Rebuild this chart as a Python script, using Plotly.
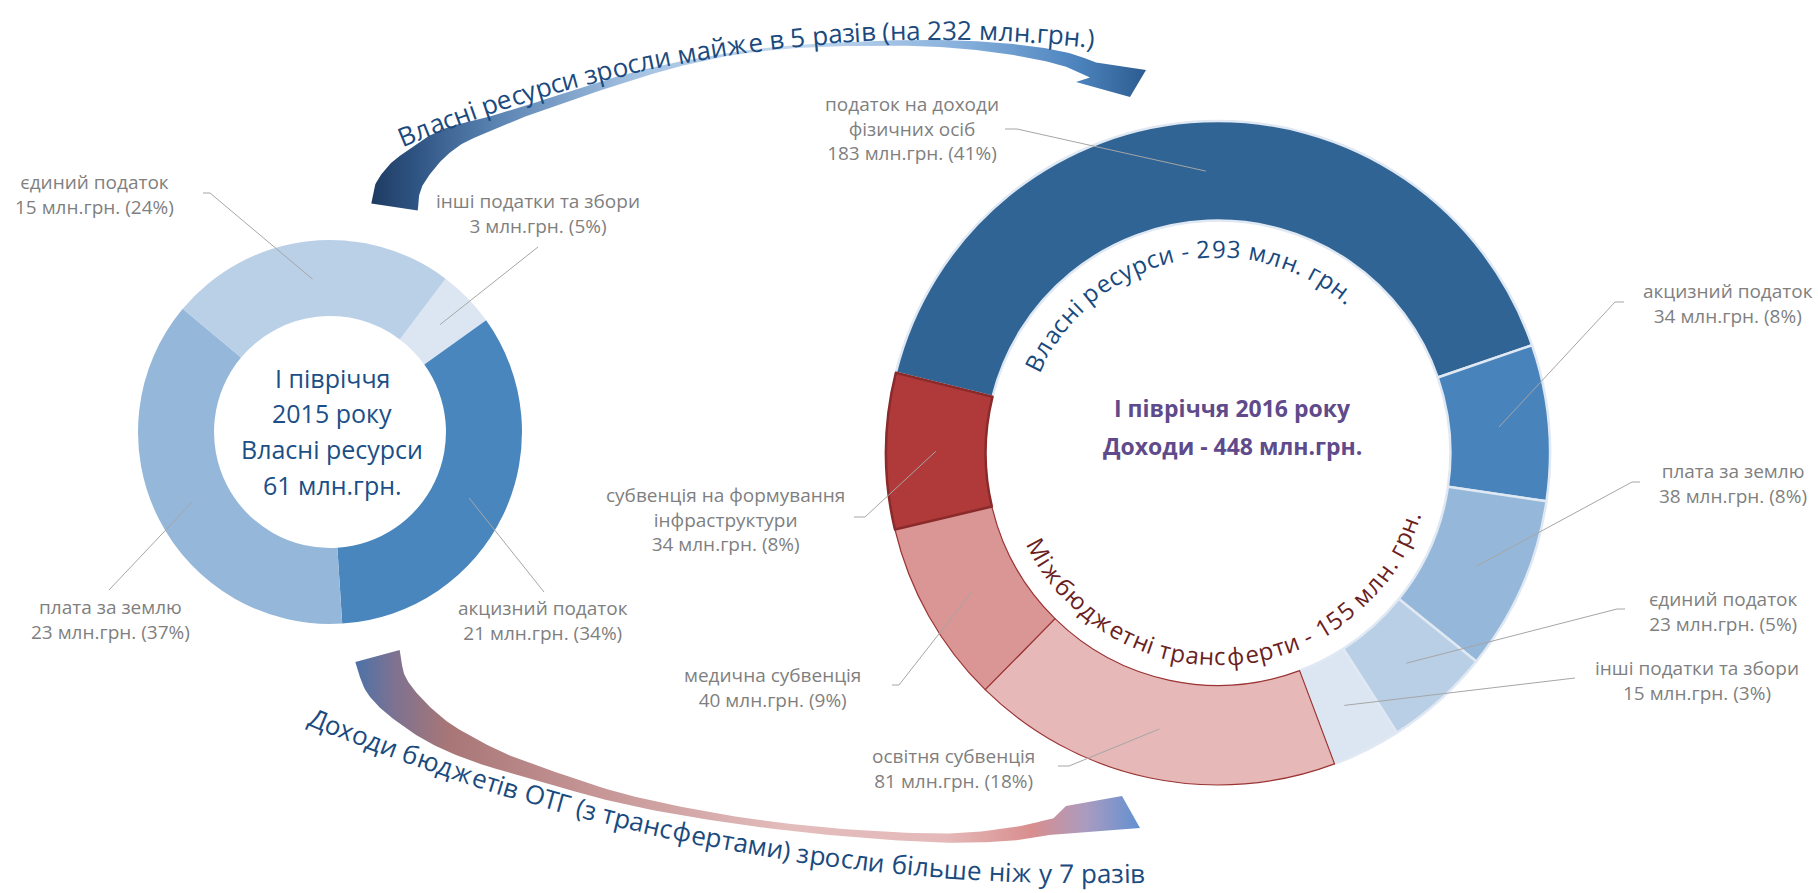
import numpy as np
import plotly.graph_objects as go

W, H = 1818, 893

# ---------------- data ----------------
left_names = ["інші податки та збори", "акцизний податок", "плата за землю", "єдиний податок"]
left_values = [3, 21, 23, 15]
left_colors = ["#dce6f2", "#4a86be", "#95b7d9", "#b9d0e7"]

right_names = ["податок на доходи|фізичних осіб", "акцизний податок", "плата за землю",
               "єдиний податок", "інші податки та збори", "освітня субвенція",
               "медична субвенція", "субвенція на формування|інфраструктури"]
right_values = [183, 34, 38, 23, 15, 81, 40, 34]
right_colors = ["#306494", "#4883bc", "#95b7d9", "#b8cfe6", "#dce6f2",
                "#e6b8b7", "#d99694", "#b03a3a"]
right_line_colors = ["#dfe8f3"] * 5 + ["#9b3434", "#9b3434", "#8a2a2a"]
right_line_widths = [2.5] * 5 + [1.2, 1.2, 2.5]

left_center_lines = ["I півріччя", "2015 року", "Власні ресурси", "61 млн.грн."]
right_center_lines = ["I півріччя 2016 року", "Доходи - 448 млн.грн."]
own_text = "Власні ресурси - 293 млн. грн."
transfer_text = "Міжбюджетні трансферти - 155 млн. грн."
top_arrow_text = "Власні ресурси зросли майже в 5 разів (на 232 млн.грн.)"
bottom_arrow_text = "Доходи бюджетів ОТГ (з трансфертами) зросли більше ніж у 7 разів"
unit = "млн.грн."

# ---------------- layout geometry ----------------
FONT = "Open Sans"
L_C, L_R, L_HOLE, L_ROT = (330, 432), 192, 0.604, 37
R_C, R_R, R_HOLE, R_ROT = (1218, 453), 332, 0.70, 284

left_label_pos = [(538, 213), (543, 620), (110, 619), (94, 194)]
left_elbows = [[(538, 247)], [(544, 592)], [(109, 590)], [(210, 193), (203, 193)]]
right_label_pos = [(912, 128), (1728, 303), (1733, 483), (1723, 611), (1697, 680),
                   (953, 768), (772, 687), (725, 519)]
right_elbows = [[(1017, 129), (1005, 129)], [(1615, 302), (1624, 302)],
                [(1632, 482), (1640, 482)], [(1617, 609), (1625, 609)], [(1575, 678)],
                [(1069, 766), (1058, 766)], [(899, 685), (892, 685)], [(865, 517), (854, 517)]]


def dom(c, r):
    cx, cy = c
    return dict(x=[(cx - r) / W, (cx + r) / W], y=[1 - (cy + r) / H, 1 - (cy - r) / H])


def mid_points(values, c, r, hole, rot):
    tot = float(sum(values))
    cum = 0.0
    pts = []
    rm = r * (1 + hole) / 2
    for v in values:
        a = np.radians(rot + 360 * (cum + v / 2) / tot)
        pts.append((c[0] + rm * np.sin(a), c[1] - rm * np.cos(a)))
        cum += v
    return pts


# ---------------- char widths (Open Sans, em) ----------------
CW = {' ': .26, '(': .297, ')': .297, '-': .322, '.': .266, '%': .838,
      'а': .556, 'б': .607, 'в': .555, 'г': .436, 'д': .561, 'е': .561, 'є': .49,
      'ж': .835, 'з': .479, 'и': .63, 'і': .253, 'ї': .26, 'й': .63, 'к': .538,
      'л': .589, 'м': .753, 'н': .623, 'о': .604, 'п': .618, 'р': .613, 'с': .476,
      'т': .459, 'у': .501, 'ф': .771, 'х': .505, 'ц': .64, 'ч': .588, 'ш': .916,
      'щ': .92, 'ь': .546, 'ю': .839, 'я': .56,
      'В': .638, 'Д': .626, 'М': .862, 'О': .781, 'Т': .544, 'Г': .493}
for d in "0123456789":
    CW[d] = .572


def arc_text(text, c, R, start_deg, size, color, mode, track=1.0):
    anns = []
    s = 0.0
    for ch in text:
        w = CW.get(ch, .55) * size * track
        t = np.radians(start_deg) + (s + w / 2) / R
        s += w
        if ch == ' ':
            continue
        if mode == 'out':
            x, y, ang = c[0] + R * np.sin(t), c[1] - R * np.cos(t), np.degrees(t)
        else:
            x, y, ang = c[0] + R * np.sin(t), c[1] + R * np.cos(t), -np.degrees(t)
        anns.append(dict(x=x, y=y, xref='x', yref='y', text=ch, showarrow=False,
                         textangle=ang, xanchor='center', yanchor='middle',
                         font=dict(family=FONT, size=size, color=color)))
    return anns


def catmull(points, n=16):
    P = np.array(points, float)
    P = np.vstack([P[0] * 2 - P[1], P, P[-1] * 2 - P[-2]])
    out = []
    for i in range(1, len(P) - 2):
        p0, p1, p2, p3 = P[i - 1], P[i], P[i + 1], P[i + 2]
        for t in np.linspace(0, 1, n, endpoint=False):
            t2, t3 = t * t, t * t * t
            out.append(0.5 * ((2 * p1) + (-p0 + p2) * t + (2 * p0 - 5 * p1 + 4 * p2 - p3) * t2
                              + (-p0 + 3 * p1 - 3 * p2 + p3) * t3))
    out.append(P[-2])
    return np.array(out), n


def arrow_poly(center, widths, head):
    C, n = catmull(center)
    w = np.interp(np.arange(len(C)), np.arange(len(widths)) * n, widths)
    T = np.gradient(C, axis=0)
    T /= np.linalg.norm(T, axis=1)[:, None]
    N = np.stack([-T[:, 1], T[:, 0]], axis=1)
    A = C - N * w[:, None] / 2
    B = C + N * w[:, None] / 2
    pts = np.vstack([A, np.array(head, float), B[::-1], A[:1]])
    return pts[:, 0], pts[:, 1]


fig = go.Figure()

# ---------------- curved arrows ----------------
top_center = [(394.5, 207), (397, 192), (405, 177), (418, 163), (435, 148), (455, 136),
              (480, 127), (523, 112), (573, 95), (623, 79), (673, 65.5), (707, 58.5),
              (740, 52.5), (790, 47), (850, 44), (920, 43), (980, 46), (1030, 52),
              (1068, 60), (1093, 70)]
top_w = [47, 46, 40, 33, 27, 21, 15, 10, 9, 8, 5, 3.5, 2.5, 3, 4, 6, 9, 12, 14, 16]
top_head = [(1146, 70), (1130, 97), (1076, 82)]
tx, ty = arrow_poly(top_center, top_w, top_head)
fig.add_trace(go.Scatter(
    x=tx, y=ty, mode='lines', line=dict(width=0), fill='toself', hoverinfo='skip',
    fillgradient=dict(type='horizontal', start=370, stop=1150,
                      colorscale=[[0, '#1d3a60'], [0.06, '#2f5584'], [0.16, '#5a83b2'],
                                  [0.35, '#a7c4e3'], [0.55, '#c3d8ee'], [0.75, '#8ab2dd'],
                                  [0.9, '#4f86c0'], [1, '#2a5a8e']]),
    showlegend=False))

bot_center = [(377.5, 656), (385, 682), (405, 706), (440, 733), (485, 755), (522, 768),
              (620, 798), (728, 819), (836, 832), (943, 838), (1012, 834), (1055, 826)]
bot_w = [46, 42, 35, 27, 20, 15, 10, 7, 7, 9, 13, 16]
bot_head = [(1066, 806), (1122, 796), (1140, 828)]
bx, by = arrow_poly(bot_center, bot_w, bot_head)
fig.add_trace(go.Scatter(
    x=bx, y=by, mode='lines', line=dict(width=0), fill='toself', hoverinfo='skip',
    fillgradient=dict(type='horizontal', start=354, stop=1142,
                      colorscale=[[0, '#4a72a8'], [0.05, '#7d7292'], [0.12, '#a87676'],
                                  [0.3, '#c59494'], [0.55, '#e3bcbc'], [0.75, '#e5b9b9'],
                                  [0.86, '#d98e8e'], [0.93, '#a99bc0'], [1, '#5f90d2']]),
    showlegend=False))

# ---------------- donuts ----------------
fig.add_trace(go.Pie(
    labels=left_names, values=left_values, hole=L_HOLE, sort=False, direction='clockwise',
    rotation=L_ROT, domain=dom(L_C, L_R), textinfo='none', hoverinfo='none',
    marker=dict(colors=left_colors, line=dict(width=0)), showlegend=False))

fig.add_trace(go.Pie(
    labels=[n.replace('|', ' ') for n in right_names], values=right_values, hole=R_HOLE,
    sort=False, direction='clockwise', rotation=R_ROT, domain=dom(R_C, R_R),
    textinfo='none', hoverinfo='none',
    marker=dict(colors=right_colors, line=dict(color=right_line_colors, width=right_line_widths)),
    showlegend=False))

annotations = []
shapes = []
GREY = '#7f7f7f'
LINE = '#a6a6a6'


def add_labels(names, values, c, r, hole, rot, pos, elbows):
    tot = sum(values)
    pts = mid_points(values, c, r, hole, rot)
    for name, v, p, lp, el in zip(names, values, pts, pos, elbows):
        pct = int(round(100.0 * v / tot))
        txt = name.replace('|', '<br>') + f"<br>{v} {unit} ({pct}%)"
        annotations.append(dict(x=lp[0], y=lp[1], xref='x', yref='y', text=txt, showarrow=False,
                                xanchor='center', yanchor='middle', align='center',
                                font=dict(family=FONT, size=19, color=GREY)))
        path = f"M {p[0]:.1f},{p[1]:.1f}" + "".join(f" L {e[0]},{e[1]}" for e in el)
        shapes.append(dict(type='path', xref='x', yref='y', path=path,
                           line=dict(color=LINE, width=1)))


add_labels(left_names, left_values, L_C, L_R, L_HOLE, L_ROT, left_label_pos, left_elbows)
add_labels(right_names, right_values, R_C, R_R, R_HOLE, R_ROT, right_label_pos, right_elbows)

# center texts
for ln, yy in zip(left_center_lines, [378, 413, 449, 485]):
    annotations.append(dict(x=332, y=yy, xref='x', yref='y', text=ln, showarrow=False,
                            font=dict(family=FONT, size=25, color='#1b4f86')))
for ln, yy in zip(right_center_lines, [408, 446]):
    annotations.append(dict(x=1232, y=yy, xref='x', yref='y', text=f"<b>{ln}</b>", showarrow=False,
                            font=dict(family=FONT, size=23, color='#5f4b8b')))

# curved texts
annotations += arc_text(own_text, R_C, 205, -66, 24, '#17497e', 'out', 1.1)
annotations += arc_text(transfer_text, R_C, 203, -64.6, 24, '#6b1f1f', 'in', 1.02)
annotations += arc_text(top_arrow_text, (939.5, 1429.5), 1400, -22.7, 26, '#1a4a7e', 'out')
annotations += arc_text(bottom_arrow_text, (1091.9, -1131.6), 2005, -22.9, 26, '#1a4a7e', 'in')

fig.update_layout(
    width=W, height=H, margin=dict(l=0, r=0, t=0, b=0),
    paper_bgcolor='white', plot_bgcolor='white',
    xaxis=dict(range=[0, W], visible=False, domain=[0, 1], fixedrange=True),
    yaxis=dict(range=[H, 0], visible=False, domain=[0, 1], fixedrange=True),
    annotations=annotations, shapes=shapes, showlegend=False,
)

fig.write_html("out.html", config={'displayModeBar': False},
               post_script="document.body.style.margin='0';document.body.style.overflow='hidden';")
